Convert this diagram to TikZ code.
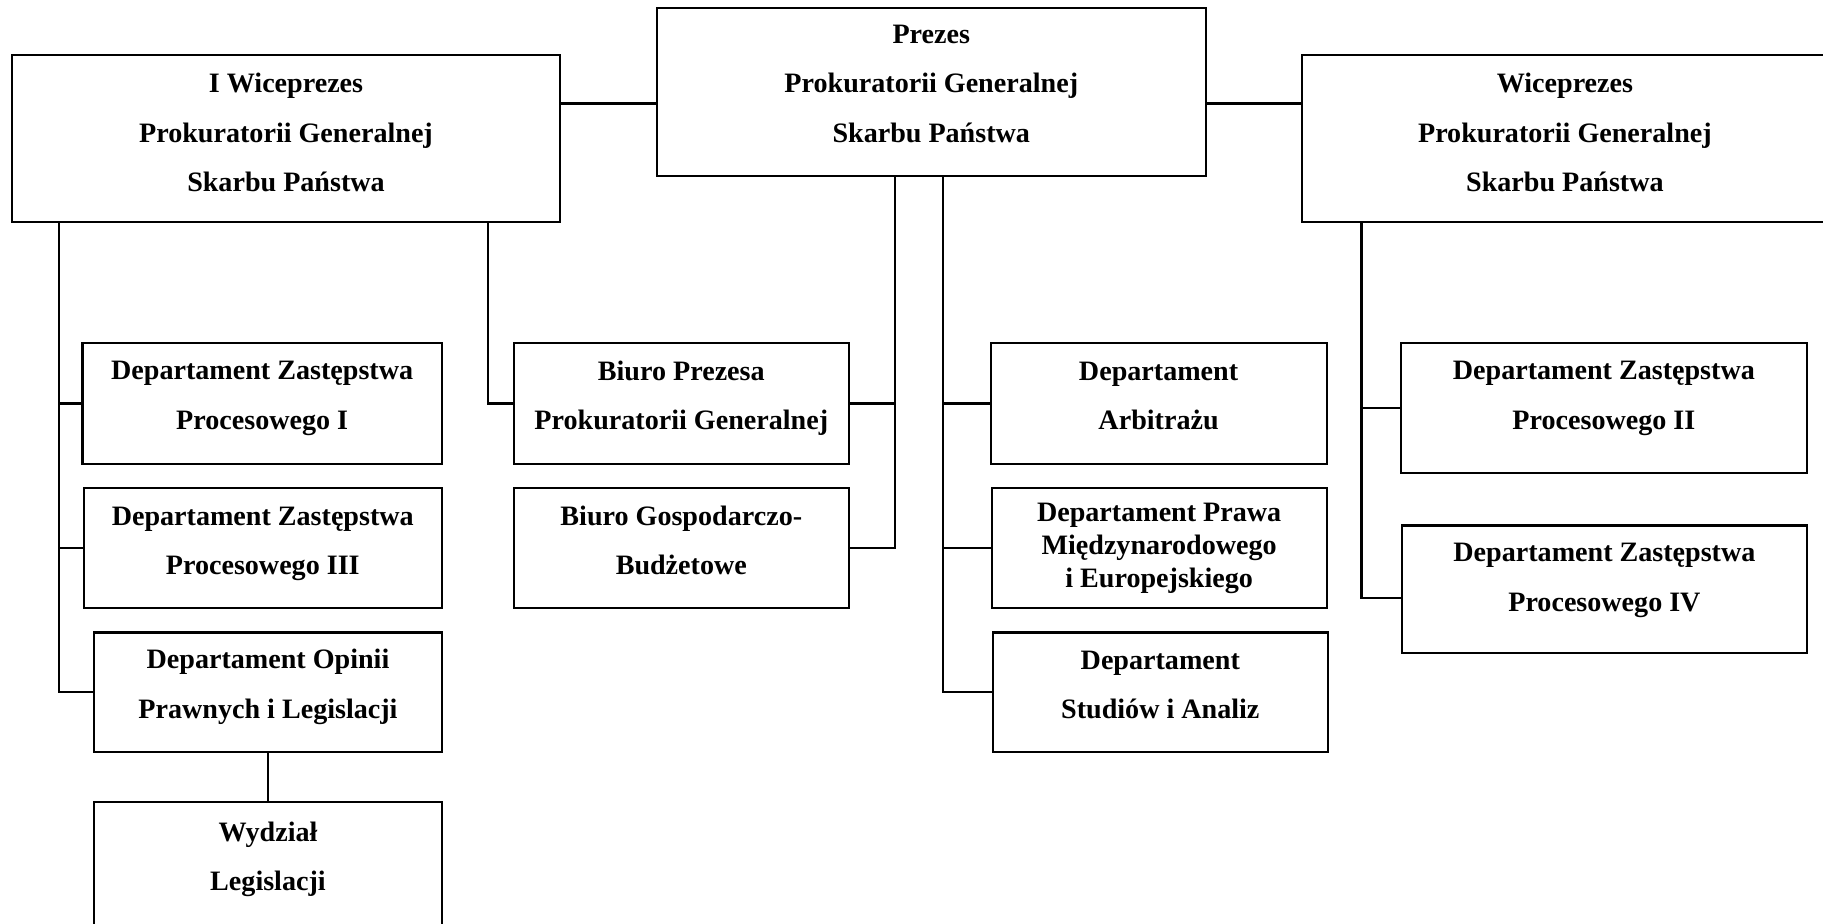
\documentclass[tikz,border=0pt]{standalone}
\usepackage{fontspec}
\setmainfont{Liberation Serif}
\begin{document}
\begin{tikzpicture}[x=0.6pt,y=-0.6pt,
  bx/.style 2 args={draw, line width=1.1pt, minimum width=#1*0.6pt, minimum height=#2*0.6pt,
    inner sep=0pt, align=center, font=\bfseries\fontsize{14.5}{25.5}\selectfont},
  dp/.style={execute at end node={\rule[-#1]{0pt}{0pt}}},
  ln/.style={line width=1.1pt}]
\path[use as bounding box] (0,0) rectangle (1568,794);
\clip (0,0) rectangle (1568,794);
% top level
\node[bx={472}{144}, dp=8.4pt] (P) at (801,79) {Prezes\\Prokuratorii Generalnej\\Skarbu Państwa};
\node[bx={472}{144}, dp=6pt] (IW) at (246,119) {I Wiceprezes\\Prokuratorii Generalnej\\Skarbu Państwa};
\node[bx={452}{144}, dp=6pt] (W) at (1346,119) {Wiceprezes\\Prokuratorii Generalnej\\Skarbu Państwa};
% left column
\node[bx={309}{104}, dp=8.5pt] (D1) at (225.5,347) {Departament Zastępstwa\\Procesowego I};
\node[bx={308}{103}, dp=7.9pt] (D3) at (226,471.5) {Departament Zastępstwa\\Procesowego III};
\node[bx={299}{103}, dp=9.1pt] (DO) at (230.5,595.5) {Departament Opinii\\Prawnych i Legislacji};
\node[bx={299}{110}, dp=10.3pt] (WL) at (230.5,745) {Wydział\\Legislacji};
% second column
\node[bx={288}{104}, dp=8.5pt] (BP) at (586,347) {Biuro Prezesa\\Prokuratorii Generalnej};
\node[bx={288}{103}, dp=8.4pt] (BG) at (586,471.5) {Biuro Gospodarczo-\\Budżetowe};
% third column
\node[bx={289}{104}, dp=7.8pt] (DA) at (996.5,347) {Departament\\Arbitrażu};
\node[bx={288}{103}, font=\bfseries\fontsize{14.5}{17}\selectfont,
  execute at begin node={\rule{0pt}{13.6pt}}] (DM) at (997,471.5) {Departament Prawa\\Międzynarodowego\\i Europejskiego};
\node[bx={288}{103}, dp=7.8pt] (DS) at (998,595.5) {Departament\\Studiów i Analiz};
% fourth column
\node[bx={349}{112}, dp=13.3pt] (D2) at (1379.5,351) {Departament Zastępstwa\\Procesowego II};
\node[bx={348}{110}, dp=12.7pt] (D4) at (1380,507) {Departament Zastępstwa\\Procesowego IV};
% trunk coordinates
\coordinate (hy) at (0,89);
\coordinate (t1) at (51,0);
\coordinate (t2) at (420,0);
\coordinate (t3) at (770,0);
\coordinate (t4) at (811,0);
\coordinate (t5) at (1171,0);
\coordinate (b4) at (0,514);
% connectors
\draw[ln] (hy -| IW.east) -- (hy -| P.west);
\draw[ln] (hy -| P.east) -- (hy -| W.west);
\draw[ln] (t1 |- IW.south) |- (DO.west);
\draw[ln] (t1 |- D1.west) -- (D1.west);
\draw[ln] (t1 |- D3.west) -- (D3.west);
\draw[ln] (DO.south) -- (WL.north);
\draw[ln] (t2 |- IW.south) |- (BP.west);
\draw[ln] (t3 |- P.south) |- (BG.east);
\draw[ln] (BP.east) -- (t3 |- BP.east);
\draw[ln] (t4 |- P.south) |- (DS.west);
\draw[ln] (t4 |- DA.west) -- (DA.west);
\draw[ln] (t4 |- DM.west) -- (DM.west);
\draw[ln] (t5 |- W.south) |- (b4 -| D4.west);
\draw[ln] (t5 |- D2.west) -- (D2.west);
\end{tikzpicture}
\end{document}
